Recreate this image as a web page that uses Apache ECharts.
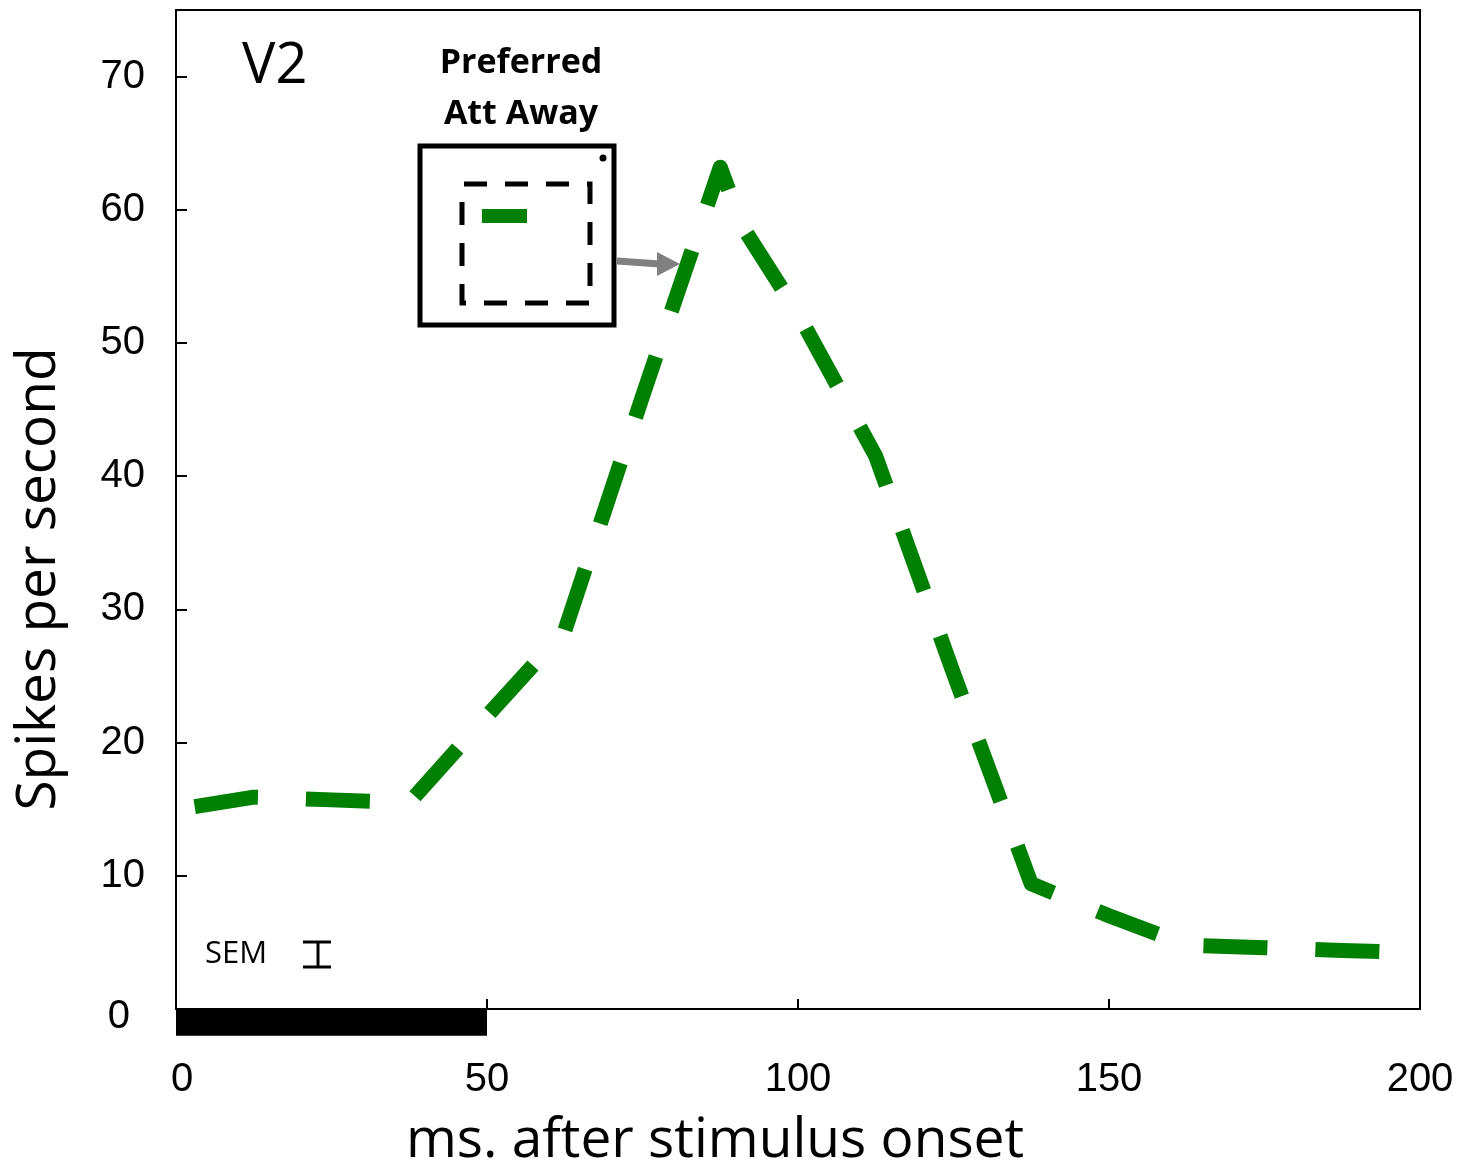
<!DOCTYPE html>
<html>
<head>
<meta charset="utf-8">
<script src="https://cdn.jsdelivr.net/npm/echarts@6/dist/echarts.min.js"></script>
<style>
html,body{margin:0;padding:0;background:#fff;}
#chart{width:1460px;height:1166px;}
</style>
</head>
<body>
<div id="chart"></div>
<script>
// ---- data ----
const timeMs = [3, 12.5, 25, 37.5, 50, 62.5, 75, 87.5, 91, 100, 112.5, 125, 137.5, 150, 162.5, 175, 187.5, 194];
const spikesAttAway = [15.2, 15.9, 15.7, 15.5, 22.0, 28.4, 46.0, 63.2, 58.8, 52.2, 41.5, 25.2, 9.4, 7.0, 4.8, 4.6, 4.4, 4.3];
const stimulusWindow = [0, 50];
const xTicks = [0, 50, 100, 150, 200];
const yTicks = [0, 10, 20, 30, 40, 50, 60, 70];
const panelLabel = 'V2';
const legendLines = ['Preferred', 'Att Away'];
const xTitle = 'ms. after stimulus onset';
const yTitle = 'Spikes per second';
const semLabel = 'SEM';

const lineData = timeMs.map((t, i) => [t, spikesAttAway[i]]);
const stimData = stimulusWindow.map(t => [t, -1]);

const chart = echarts.init(document.getElementById('chart'), null, {renderer: 'canvas'});
const GREEN = '#008000';
const option = {
  animation: false,
  backgroundColor: '#fff',
  grid: {left: 176, right: 40, top: 10, bottom: 157, show: true, borderColor: '#000', borderWidth: 2, backgroundColor: 'transparent'},
  xAxis: {
    type: 'value', min: xTicks[0], max: xTicks[xTicks.length - 1], interval: 50,
    axisLine: {show: true, lineStyle: {color: '#000', width: 2}},
    axisTick: {show: true, inside: true, length: 10, lineStyle: {color: '#000', width: 2}},
    axisLabel: {color: '#000', fontFamily: 'Liberation Sans', fontSize: 40, margin: 51,
      formatter: v => (v === 0 ? '{z|0}' : String(v)),
      rich: {z: {fontFamily: 'Liberation Sans', fontSize: 40, color: '#000', padding: [0, 0, 0, 12]}}},
    splitLine: {show: false}
  },
  yAxis: {
    type: 'value', min: 0, max: 75, interval: 10,
    axisLine: {show: true, lineStyle: {color: '#000', width: 2}},
    axisTick: {show: true, inside: true, length: 11, lineStyle: {color: '#000', width: 2}},
    axisLabel: {color: '#000', fontFamily: 'Liberation Sans', fontSize: 40, margin: 31, showMaxLabel: false,
      formatter: v => (v === 0 ? '{z|0}' : (yTicks.indexOf(v) >= 0 ? String(v) : '')),
      rich: {z: {fontFamily: 'Liberation Sans', fontSize: 40, color: '#000', padding: [16, 15, 0, 0]}}},
    splitLine: {show: false}
  },
  series: [
    {
      type: 'line', data: lineData, symbol: 'none', clip: false,
      lineStyle: {color: GREEN, width: 15, type: [64, 48], cap: 'butt', join: 'round'}
    },
    {
      type: 'line', data: stimData, symbol: 'none', clip: false,
      lineStyle: {color: '#000', width: 27, cap: 'butt'}
    }
  ],
  graphic: [
    {type: 'text', left: 242, top: 39, style: {text: panelLabel, font: '56px "Open Sans"', fill: '#000'}},
    {type: 'text', x: 521, y: 63, style: {text: legendLines[0], font: 'bold 34px "Open Sans"', fill: '#000', textAlign: 'center', textVerticalAlign: 'middle'}},
    {type: 'text', x: 521, y: 114, style: {text: legendLines[1], font: 'bold 34px "Open Sans"', fill: '#000', textAlign: 'center', textVerticalAlign: 'middle'}},
    {type: 'rect', shape: {x: 420, y: 146, width: 194, height: 179}, style: {fill: 'none', stroke: '#000', lineWidth: 5}},
    {type: 'rect', shape: {x: 462, y: 184, width: 128, height: 119}, style: {fill: 'none', stroke: '#000', lineWidth: 5, lineDash: [23, 18], lineDashOffset: -2}},
    {type: 'rect', shape: {x: 482, y: 209, width: 45, height: 14}, style: {fill: GREEN}},
    {type: 'circle', shape: {cx: 603, cy: 158, r: 3.5}, style: {fill: '#000'}},
    {type: 'line', shape: {x1: 617, y1: 261, x2: 660, y2: 264}, style: {stroke: '#808080', lineWidth: 7}},
    {type: 'polygon', shape: {points: [[657, 252], [680, 264], [657, 276]]}, style: {fill: '#808080'}},
    {type: 'text', x: 205, y: 954, style: {text: semLabel, font: '31px "Open Sans"', fill: '#000', textVerticalAlign: 'middle'}},
    {type: 'line', shape: {x1: 303, y1: 942, x2: 331, y2: 942}, style: {stroke: '#000', lineWidth: 3}},
    {type: 'line', shape: {x1: 303, y1: 967, x2: 331, y2: 967}, style: {stroke: '#000', lineWidth: 3}},
    {type: 'line', shape: {x1: 318, y1: 942, x2: 318, y2: 967}, style: {stroke: '#000', lineWidth: 3}},
    {type: 'text', x: 715, y: 1141, style: {text: xTitle, font: '55px "Open Sans"', fill: '#000', textAlign: 'center', textVerticalAlign: 'middle'}},
    {type: 'text', x: 39, y: 579, rotation: Math.PI / 2, style: {text: yTitle, font: '55px "Open Sans"', fill: '#000', textAlign: 'center', textVerticalAlign: 'middle'}}
  ]
};
chart.setOption(option);
</script>
</body>
</html>
